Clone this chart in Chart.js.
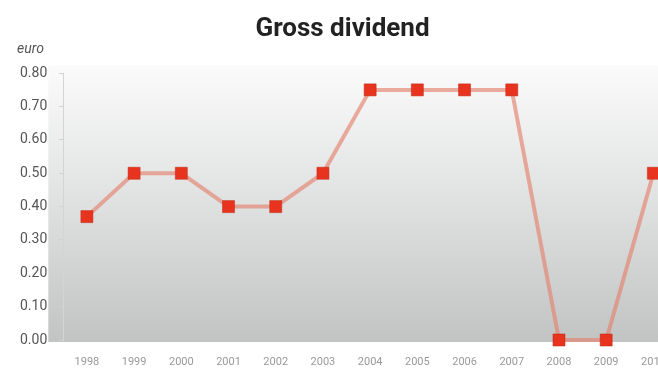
<!DOCTYPE html>
<html>
<head>
<meta charset="utf-8">
<script src="https://cdn.jsdelivr.net/npm/chart.js@4/dist/chart.umd.min.js"></script>
<style>
  html, body { margin: 0; padding: 0; background: #fff; overflow: hidden; }
  #wrap { width: 694px; height: 370px; }
</style>
</head>
<body>
<div id="wrap"><canvas id="divChart" width="694" height="370"></canvas></div>
<script>
const years = ['1998', '1999', '2000', '2001', '2002', '2003', '2004', '2005', '2006', '2007', '2008', '2009', '2010'];
const grossDividend = [0.37, 0.50, 0.50, 0.40, 0.40, 0.50, 0.75, 0.75, 0.75, 0.75, 0.00, 0.00, 0.50];
const yTicks = [0, 0.1, 0.2, 0.3, 0.4, 0.5, 0.6, 0.7, 0.8];

// gray gradient panel behind the plot, a bit wider than the chart area
const panelBg = {
  id: 'panelBg',
  beforeDraw(chart) {
    const { ctx, chartArea: a } = chart;
    const top = a.top - 8, bottom = a.bottom + 2;
    const g = ctx.createLinearGradient(0, top, 0, bottom);
    g.addColorStop(0, '#fbfbfb');
    g.addColorStop(0.45, '#e2e3e3');
    g.addColorStop(1, '#c2c4c4');
    ctx.save();
    ctx.fillStyle = g;
    ctx.fillRect(a.left - 15, top, a.right - a.left + 15, bottom - top);
    ctx.restore();
  },
  afterDraw(chart) {
    const { ctx } = chart;
    ctx.save();
    ctx.font = 'italic 14px Roboto';
    ctx.fillStyle = '#555';
    ctx.textBaseline = 'middle';
    ctx.fillText('euro', 17, 49);
    ctx.restore();
  }
};

new Chart(document.getElementById('divChart').getContext('2d'), {
  type: 'line',
  data: {
    labels: years,
    datasets: [{
      data: grossDividend,
      borderColor: 'rgba(228, 130, 110, 0.65)',
      borderWidth: 4,
      backgroundColor: '#e8341f',
      pointStyle: 'rect',
      pointRadius: 8.5,
      pointBorderColor: 'rgba(190, 40, 20, 0.5)',
      pointBorderWidth: 1,
      tension: 0,
      clip: false
    }]
  },
  options: {
    responsive: false,
    animation: false,
    layout: { padding: { left: 8, right: 17, bottom: 0 } },
    scales: {
      x: {
        offset: true,
        grid: { display: false },
        border: { display: false },
        afterFit: s => { s.height = 30; },
        ticks: { color: '#999', font: { family: 'Roboto', size: 11 }, padding: 8, maxRotation: 0, autoSkip: false }
      },
      y: {
        min: 0,
        max: 0.8,
        afterBuildTicks: axis => { axis.ticks = yTicks.map(v => ({ value: v })); },
        grid: { drawOnChartArea: false, drawTicks: true, tickLength: 4, color: '#d0d0d0' },
        border: { display: true, color: '#d4d4d4', width: 1 },
        ticks: {
          color: '#555',
          font: { family: 'Roboto', size: 14 },
          padding: 12,
          callback: v => v.toFixed(2)
        }
      }
    },
    plugins: {
      legend: { display: false },
      tooltip: { enabled: false },
      title: {
        display: true,
        text: 'Gross dividend',
        color: '#222',
        font: { family: 'Roboto', size: 26, weight: 'bold' },
        padding: { top: 14, bottom: 28 }
      }
    }
  },
  plugins: [panelBg]
});
</script>
</body>
</html>
